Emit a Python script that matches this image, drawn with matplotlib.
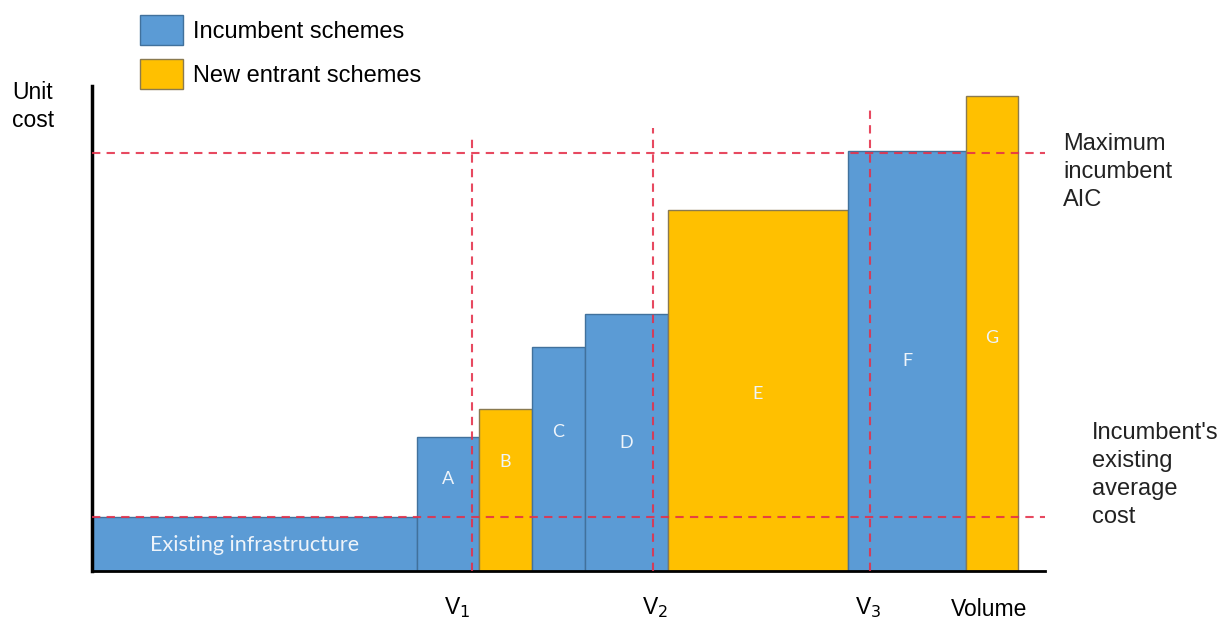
import numpy as np
import matplotlib

matplotlib.use("Agg")
import matplotlib.pyplot as plt
from matplotlib.patches import Patch

# scheme data: volume (bar width) and unit cost (bar height)
schemes = ["Existing infrastructure", "A", "B", "C", "D", "E", "F", "G"]
volumes = [32.5, 6.2, 5.3, 5.3, 8.3, 18.0, 11.8, 5.2]
unit_costs = [10.8, 26.8, 32.4, 44.8, 51.4, 72.2, 84.0, 95.0]
scheme_type = ["inc", "inc", "new", "inc", "inc", "new", "inc", "new"]

# reference levels
existing_avg_cost = 10.8
max_incumbent_aic = 83.6
v_marks = ["V$_1$", "V$_2$", "V$_3$"]
v_volumes = [38.0, 56.1, 77.8]
v_line_tops = [87.2, 88.6, 92.2]

BLUE = "#5b9bd5"
ORANGE = "#ffc000"
RED = "#e4304a"
FONT = "Liberation Sans"

plt.rcParams["font.family"] = [FONT, "DejaVu Sans"]

fig = plt.figure(figsize=(12.22, 6.21), dpi=100)
ax = fig.add_axes([92 / 1222, 50 / 621, 953 / 1222, 485 / 621])
ax.set_xlim(0, 95.3)
ax.set_ylim(0, 97)

lefts = np.concatenate([[0], np.cumsum(volumes)[:-1]])
colors = [BLUE if t == "inc" else ORANGE for t in scheme_type]
edges = ["#41719c" if t == "inc" else "#8a7a50" for t in scheme_type]
ax.bar(lefts, unit_costs, width=volumes, align="edge", color=colors,
       edgecolor=edges, linewidth=1.0, zorder=2)

# labels inside bars (relative height of the label in each bar)
label_frac = [0.48, 0.69, 0.67, 0.62, 0.50, 0.49, 0.50, 0.49]
for name, left, w, h, f in zip(schemes, lefts, volumes, unit_costs, label_frac):
    size = 15.5 if name == "Existing infrastructure" else 13
    ax.text(left + w / 2, h * f, name, ha="center", va="center",
            color="#eef4fa", fontsize=size, family="Lato", zorder=4)

# dashed reference lines
dash = dict(color=RED, linestyle=(0, (4, 3)), linewidth=1.5, alpha=0.88,
            zorder=3, clip_on=False)
ax.plot([0, 95.3], [existing_avg_cost, existing_avg_cost], **dash)
ax.plot([0, 95.3], [max_incumbent_aic, max_incumbent_aic], **dash)
for vx, top in zip(v_volumes, v_line_tops):
    ax.plot([vx, vx], [0, top], **dash)

v_label_x = [36.5, 56.3, 77.6]
for lab, vx in zip(v_marks, v_label_x):
    ax.text(vx, -7.3, lab, ha="center", va="center", fontsize=16.5)

ax.text(89.7, -7.6, "Volume", ha="center", va="center", fontsize=16.5)

ax.spines["top"].set_visible(False)
ax.spines["right"].set_visible(False)
ax.spines["left"].set_linewidth(2.5)
ax.spines["bottom"].set_linewidth(2.0)
ax.set_xticks([])
ax.set_yticks([])

fig.text(12 / 1222, 1 - 81 / 621, "Unit\ncost", ha="left", va="top",
         fontsize=16.5, linespacing=1.3)
fig.text(1063 / 1222, 1 - 172 / 621, "Maximum\nincumbent\nAIC", ha="left",
         va="center", fontsize=17, linespacing=1.35, color="#222222")
fig.text(1092 / 1222, 1 - 475 / 621, "Incumbent's\nexisting\naverage\ncost",
         ha="left", va="center", fontsize=17, linespacing=1.35, color="#222222")

handles = [Patch(facecolor=BLUE, edgecolor="#41719c", label="Incumbent schemes"),
           Patch(facecolor=ORANGE, edgecolor="#8a7a50", label="New entrant schemes")]
fig.legend(handles=handles, loc="upper left",
           bbox_to_anchor=(131 / 1222, 1 - 6 / 621), frameon=False,
           fontsize=17, handlelength=1.82, handleheight=1.55, labelspacing=0.6,
           handletextpad=0.42, borderaxespad=0)

fig.savefig("out.png", dpi=100)
